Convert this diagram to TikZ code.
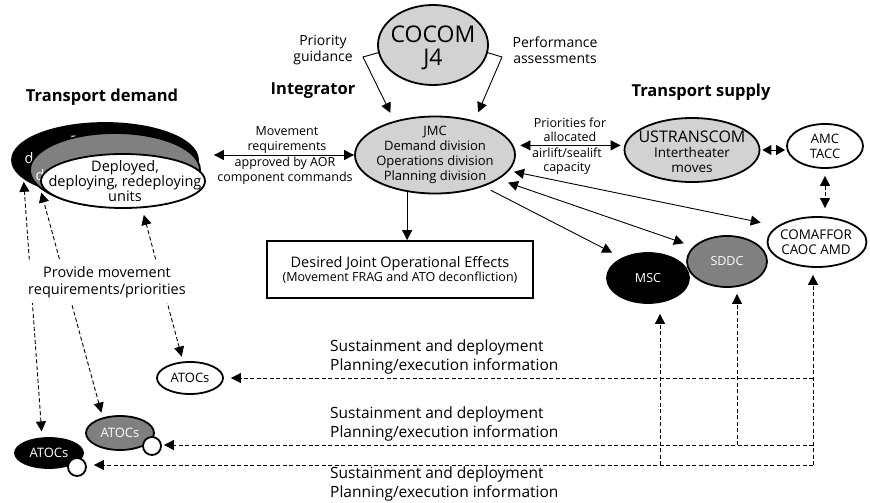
\documentclass[tikz,border=0pt]{standalone}
\usepackage{fontspec}
\setmainfont{Open Sans}
\usetikzlibrary{shapes.geometric,arrows.meta}
\definecolor{lgray}{HTML}{D2D2D2}
\definecolor{mgray}{HTML}{808080}
\newcommand{\myfs}[2]{\fontsize{#1}{#2}\selectfont}
\begin{document}
\begin{tikzpicture}[x=1pt,y=-1pt,
 ell/.style={ellipse,draw,line width=1.8pt,inner sep=0pt},
 lbl/.style={align=center,inner sep=0pt},
 arr/.style={-{Triangle[length=10pt,width=10pt]},line width=0.9pt},
 arrb/.style={{Triangle[length=10pt,width=10pt]}-{Triangle[length=10pt,width=10pt]},line width=0.9pt},
 dsh/.style={dash pattern=on 4pt off 2.5pt},
 ttl/.style={font=\bfseries\myfs{16.5}{19},inner sep=0pt,anchor=base}]
\useasboundingbox (0,0) rectangle (870,503);

% titles
\node[ttl] (tdem) at (102,101) {Transport demand};
\node[ttl] (tint) at (313,95) {Integrator};
\node[ttl] (tsup) at (701,96) {Transport supply};

% COCOM
\node[ell,fill=lgray,minimum width=110,minimum height=80] (cocom) at (433,45) {};
\node[lbl,font=\myfs{23}{23}] (cocomt) at (433,48) {COCOM\\J4};
\node[lbl,font=\myfs{14}{16}] (pg) at (323,50) {Priority\\guidance};
\node[lbl,font=\myfs{14}{16}] (pa) at (555,50) {Performance\\assessments};

% JMC
\node[ell,fill=lgray,minimum width=160,minimum height=77] (jmc) at (435,155) {};
\node[lbl,font=\myfs{13}{15}] (jmct) at (435,155) {JMC\\Demand division\\Operations division\\Planning division};

% USTRANSCOM etc.
\node[ell,fill=lgray,minimum width=135,minimum height=64] (ust) at (692,150) {};
\node[lbl,font=\myfs{13.5}{15}] (ustt) at (692,152) {{\myfs{16}{16}USTRANSCOM}\\Intertheater\\moves};
\node[ell,fill=white,minimum width=76,minimum height=44] (amc) at (825,146) {};
\node[lbl,font=\myfs{13}{15}] (amct) at (825,146) {AMC\\TACC};
\node[ell,fill=white,minimum width=99,minimum height=50] (com) at (817,242) {};
\node[lbl,font=\myfs{13.4}{15}] (comt) at (816,242) {COMAFFOR\\CAOC AMD};
\node[ell,fill=mgray,text=white,font=\myfs{12.5}{14},minimum width=80,minimum height=51] (sddc) at (727,261.5) {SDDC};
\node[ell,fill=black,text=white,font=\myfs{12.5}{14},minimum width=82,minimum height=50] (msc) at (648,278) {MSC};

% Transport demand stack (back ellipses show only fragments of their text)
\node[ell,fill=black,minimum width=186,minimum height=74] (d1) at (105,160) {};
\node[text=white,font=\myfs{14.5}{15},inner sep=0pt] (d1a) at (104,143) {Deployed,};
\node[text=white,font=\myfs{14.5}{15},inner sep=0pt,anchor=west] (d1b) at (24.5,158) {de};
\node[ell,fill=mgray,minimum width=170,minimum height=74] (d2) at (115,170) {};
\node[text=white,font=\myfs{14.5}{15},inner sep=0pt,anchor=west] (d2a) at (35.5,175) {d};
\node[ell,fill=white,minimum width=164,minimum height=54] (d3) at (123,181) {};
\node[lbl,font=\myfs{14.5}{15}] (d3t) at (125,181) {Deployed,\\deploying, redeploying\\units};

% Desired box
\node[draw,line width=1.8pt,minimum width=266,minimum height=57,align=center,inner sep=0pt] (dje) at (400,269.5)
 {{\myfs{14.5}{17}Desired Joint Operational Effects}\\{\myfs{12.5}{15}(Movement FRAG and ATO deconfliction)}};

% ATOCs
\node[ell,fill=white,font=\myfs{13}{14},minimum width=66,minimum height=32] (atw) at (190,378) {ATOCs};
\node[ell,fill=mgray,text=white,font=\myfs{13}{14},minimum width=68,minimum height=34] (atg) at (120,433) {ATOCs};
\node[circle,draw,fill=white,line width=1.8pt,minimum size=18,inner sep=0pt] (atgc) at (152,446) {};
\node[ell,fill=black,text=white,font=\myfs{13}{14},minimum width=68,minimum height=30] (atb) at (49,453) {ATOCs};
\node[circle,draw,fill=white,line width=1.8pt,minimum size=18,inner sep=0pt] (atbc) at (77,467) {};

% labels of arrows
\node[lbl,font=\myfs{12.5}{15}] (mr) at (287,140) {Movement\\requirements};
\node[lbl,font=\myfs{12.5}{15}] (ab) at (285,171) {approved by AOR\\component commands};
\node[lbl,font=\myfs{12.5}{14.5}] (pf) at (570,130) {Priorities for\\allocated};
\node[lbl,font=\myfs{12.5}{14.5}] (as) at (567,161) {airlift/sealift\\capacity};

\node[lbl,font=\myfs{15.5}{19},align=left,anchor=west] (s1) at (330,357) {Sustainment and deployment\\Planning/execution information};
\node[lbl,font=\myfs{15.5}{19},align=left,anchor=west] (s2) at (330,424) {Sustainment and deployment\\Planning/execution information};
\node[lbl,font=\myfs{15.5}{19},align=left,anchor=west] (s3) at (330,484) {Sustainment and deployment\\Planning/execution information};

% COCOM connectors
\coordinate (pgc) at (363,57);
\coordinate (pac) at (502,57);
\draw[arr,shorten >=9pt] (cocom.188) -- (pgc) -- (jmc.140);
\draw[arr,shorten >=9pt] (cocom.-8) -- (pac) -- (jmc.41);

% JMC connectors
\draw[arrb] ([shift={(15,-5)}]d1.east) -- (jmc.west);
\draw[arr] (jmc.-127) -- (jmc.-127 |- dje.north);
\draw[arrb,shorten <=7pt,shorten >=3pt] (jmc.7) -- (jmc.7 -| ust.west);
\draw[{Triangle[length=9pt,width=10pt]}-{Triangle[length=9pt,width=10pt]},line width=0.9pt,shorten <=2pt,shorten >=1pt] (ust.east) -- (ust.east -| amc.west);
\draw[arrb,dsh,shorten <=7pt,shorten >=8pt] (amc.south) -- (amc.south |- com.north);
\draw[arrb,shorten <=5pt,shorten >=17pt] (jmc.-12) -- (com.158);
\draw[arrb,shorten <=10pt,shorten >=10pt] (jmc.-21) -- (sddc.156);
\draw[arr,shorten <=8pt,shorten >=11pt] (jmc.-33) -- (msc.142);

% bottom dashed
\coordinate (c1) at (813,378);
\coordinate (c2) at (813,445);
\coordinate (c3) at (813,465);
\coordinate (m3) at (660,465);
\coordinate (s2c) at (737,445);
\draw[arr,dsh,shorten >=7pt] (c3) -- (c3 |- com.south);
\draw[arr,dsh,shorten >=10pt] (m3) -- (m3 |- msc.south);
\draw[arr,dsh,shorten >=6pt] (s2c) -- (s2c |- sddc.south);
\draw[arr,dsh,shorten >=7pt] (c1) -- (c1 -| atw.east);
\draw[arr,dsh,shorten >=2pt] (c2) -- (c2 -| atgc.east);
\draw[arr,dsh,shorten >=7pt] (c3) -- (c3 -| atbc.east);

% demand to ATOCs
\draw[arrb,dsh,shorten <=6pt,shorten >=3pt] (atb.114) -- (d1.193);
\draw[arrb,dsh,shorten <=5pt,shorten >=4pt] (atg.138) -- (d2.194);
\draw[arrb,dsh,shorten <=5pt,shorten >=7pt] (atw.113) -- (d3.-55);

\node[lbl,fill=white,inner sep=5pt,font=\myfs{14.5}{17}] (prov) at (107,282) {Provide movement\\requirements/priorities};
\end{tikzpicture}
\end{document}
